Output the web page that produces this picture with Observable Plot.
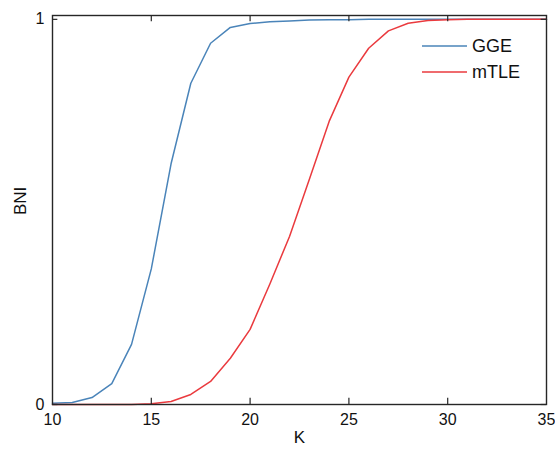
<!DOCTYPE html>
<html>
<head>
<meta charset="utf-8">
<script src="https://cdn.jsdelivr.net/npm/d3@7"></script>
<script src="https://cdn.jsdelivr.net/npm/@observablehq/plot@0.6"></script>
<style>
  html, body { margin: 0; padding: 0; background: #fff; }
  #wrap { position: relative; width: 555px; height: 452px; font-family: "Liberation Sans", Arial, sans-serif; }
  #legend { position: absolute; left: 422px; top: 33px; font-size: 18px; color: #111; line-height: 26px; }
  #legend .row { display: flex; align-items: center; height: 26px; }
  #legend svg { margin-right: 5px; }
</style>
</head>
<body>
<div id="wrap">
  <div id="chart"></div>
  <div id="legend"></div>
</div>
<script>
const K = [10,11,12,13,14,15,16,17,18,19,20,21,22,23,24,25,26,27,28,29,30,31,32,33,34,35];
const GGE = [0.003,0.005,0.018,0.054,0.156,0.352,0.625,0.834,0.938,0.979,0.989,0.994,0.996,0.998,0.999,0.999,1,1,1,1,1,1,1,1,1,1];
const mTLE = [0,0,0,0,0,0.002,0.008,0.026,0.06,0.12,0.195,0.313,0.437,0.585,0.735,0.85,0.925,0.97,0.99,0.997,0.999,1,1,1,1,1];
const xTicks = [10,15,20,25,30,35];
const yTicks = [0,1];
const seriesNames = ["GGE","mTLE"];
const seriesColors = ["#4a84b9","#ea3a3e"];

const data = [];
K.forEach((k,i) => {
  data.push({K: k, v: GGE[i], s: "GGE"});
  data.push({K: k, v: mTLE[i], s: "mTLE"});
});

const axisColor = "#262626";
const chart = Plot.plot({
  width: 555,
  height: 452,
  marginLeft: 52,
  marginRight: 9,
  marginTop: 15,
  marginBottom: 48,
  style: {fontFamily: "Liberation Sans, Arial, sans-serif", fontSize: "16px", color: "#111", background: "#fff"},
  x: {domain: [10, 35]},
  y: {domain: [0, 1.01]},
  color: {domain: seriesNames, range: seriesColors},
  marks: [
    Plot.line(data, {x: "K", y: "v", z: "s", stroke: "s", strokeWidth: 1.5}),
    Plot.frame({stroke: axisColor, strokeWidth: 1.4}),
    Plot.ruleX(xTicks.slice(1, -1), {x: d => d, y1: 0, y2: 0.016, stroke: axisColor, strokeWidth: 1.2}),
    Plot.ruleX(xTicks.slice(1, -1), {x: d => d, y1: 1.01, y2: 0.994, stroke: axisColor, strokeWidth: 1.2}),
    Plot.ruleY(yTicks, {y: d => d, x1: 10, x2: 10.27, stroke: axisColor, strokeWidth: 1.2}),
    Plot.ruleY(yTicks, {y: d => d, x1: 35, x2: 34.73, stroke: axisColor, strokeWidth: 1.2}),
    Plot.axisX(xTicks, {tickSize: 0, tickPadding: 9, fontSize: 16, fill: "#111", label: null, tickFormat: d => String(d)}),
    Plot.axisY(yTicks, {tickSize: 0, tickPadding: 8, fontSize: 16, fill: "#111", label: null, tickFormat: d => String(d)}),
    Plot.text(["K"], {frameAnchor: "bottom", dy: 38, fontSize: 17, fill: "#111"}),
    Plot.text(["BNI"], {frameAnchor: "left", dx: -32, dy: 5, rotate: -90, fontSize: 17, fill: "#111"})
  ]
});
document.getElementById("chart").appendChild(chart);

const legend = document.getElementById("legend");
seriesNames.forEach((name, i) => {
  const row = document.createElement("div");
  row.className = "row";
  row.innerHTML = `<svg width="45" height="4"><line x1="0" y1="2" x2="45" y2="2" stroke="${seriesColors[i]}" stroke-width="1.5"/></svg><span>${name}</span>`;
  legend.appendChild(row);
});
</script>
</body>
</html>
